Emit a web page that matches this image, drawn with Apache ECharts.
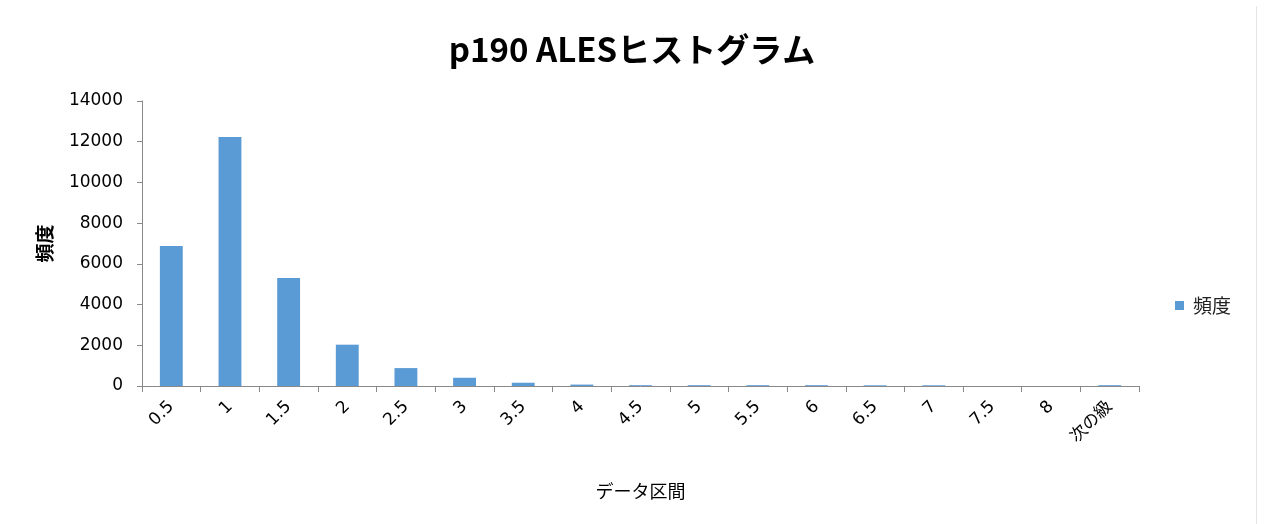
<!DOCTYPE html>
<html style="height: 100%">
<head>
<meta charset="utf-8">
</head>
<body style="height: 100%; margin: 0; background: #fff">
<div id="container" style="width: 1264px; height: 524px"></div>
<script type="text/javascript" src="https://cdn.jsdelivr.net/npm/echarts@6/dist/echarts.min.js"></script>
<script type="text/javascript">
// データ区間
var bins = ['0.5', '1', '1.5', '2', '2.5', '3', '3.5', '4', '4.5', '5', '5.5', '6', '6.5', '7', '7.5', '8', '次の級'];
// 頻度
var freq = [6880, 12230, 5310, 2030, 880, 405, 160, 70, 40, 40, 40, 40, 35, 35, 0, 0, 40];
var yTicks = [0, 2000, 4000, 6000, 8000, 10000, 12000, 14000];

var dom = document.getElementById('container');
var myChart = echarts.init(dom);
var axisColor = '#898989';
var font = '"Noto Sans CJK JP", "Open Sans", sans-serif';
var numFont = '"DejaVu Sans", "Noto Sans CJK JP", sans-serif';

var option = {
    animation: false,
    title: {
        text: 'p190 ALESヒストグラム',
        left: 'center',
        top: 33,
        textStyle: {
            fontSize: 33,
            fontWeight: 'bold',
            fontFamily: font,
            color: '#000'
        },
        padding: 0,
        itemGap: 0
    },
    legend: {
        data: ['頻度'],
        right: 28,
        top: 291,
        itemWidth: 9,
        itemHeight: 9,
        itemGap: 8,
        icon: 'rect',
        textStyle: {fontSize: 19, fontFamily: font, color: '#222', padding: [0, 0, 0, 4]}
    },
    grid: {
        left: 142,
        right: 125,
        top: 101,
        bottom: 138
    },
    xAxis: {
        type: 'category',
        data: bins,
        name: 'データ区間',
        nameLocation: 'middle',
        nameGap: 96,
        nameTextStyle: {fontSize: 18, fontFamily: font, color: '#000'},
        axisLine: {lineStyle: {color: axisColor}},
        axisTick: {show: true, length: 6, lineStyle: {color: axisColor}},
        axisLabel: {
            rotate: 45,
            interval: 0,
            fontSize: 17,
            fontFamily: numFont,
            color: '#000',
            margin: 18
        }
    },
    yAxis: {
        type: 'value',
        min: yTicks[0],
        max: yTicks[yTicks.length - 1],
        interval: yTicks[1] - yTicks[0],
        name: '頻度',
        nameLocation: 'middle',
        nameGap: 88,
        nameRotate: 90,
        nameTextStyle: {fontSize: 19, fontWeight: 'bold', fontFamily: font, color: '#000'},
        axisLine: {show: true, lineStyle: {color: axisColor}},
        axisTick: {show: true, length: 5, lineStyle: {color: axisColor}},
        splitLine: {show: false},
        axisLabel: {
            fontSize: 17,
            fontFamily: numFont,
            color: '#000',
            margin: 19,
            formatter: function (v) { return String(v); }
        }
    },
    graphic: [{
        type: 'line',
        shape: {x1: 1256.5, y1: 6, x2: 1256.5, y2: 524},
        style: {stroke: '#e4e4e4', lineWidth: 1},
        silent: true
    }],
    series: [{
        name: '頻度',
        type: 'bar',
        data: freq,
        barWidth: '39%',
        itemStyle: {color: '#5b9bd5'}
    }]
};

myChart.setOption(option);
</script>
</body>
</html>
